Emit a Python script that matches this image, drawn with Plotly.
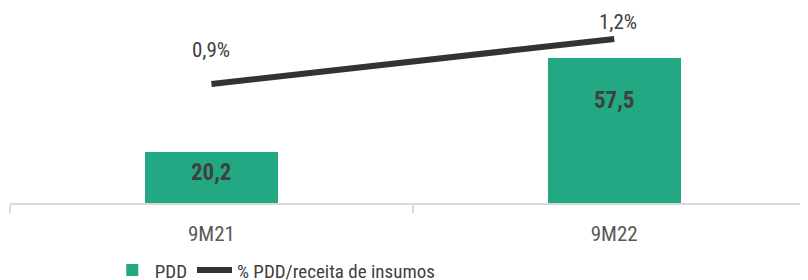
import plotly.graph_objects as go

categories = ["9M21", "9M22"]
pdd = [20.2, 57.5]
pdd_labels = ["20,2", "57,5"]
ratio = [0.9, 1.2]
ratio_labels = ["0,9%", "1,2%"]

GREEN = "#22A882"
DARK = "#333333"
TXT = "#404040"
FONT = "Roboto Condensed, Liberation Sans Narrow, Roboto, sans-serif"

fig = go.Figure()
fig.add_trace(go.Bar(
    x=categories, y=pdd, name="PDD", marker=dict(color=GREEN, line=dict(width=0)),
    width=0.33, yaxis="y",
))
fig.add_trace(go.Scatter(
    x=categories, y=ratio, name="% PDD/receita de insumos", mode="lines",
    line=dict(color=DARK, width=6), yaxis="y2",
))

bar_shift = [-20, -42]
for c, v, t, s in zip(categories, pdd, pdd_labels, bar_shift):
    fig.add_annotation(x=c, y=v, yref="y", text="<b>" + t + "</b>", showarrow=False,
                       yanchor="middle", yshift=s,
                       font=dict(size=23, color=TXT, family=FONT))
line_shift = [34, 17]
for c, v, t, s in zip(categories, ratio, ratio_labels, line_shift):
    fig.add_annotation(x=c, y=v, yref="y2", text=t, showarrow=False, yanchor="middle",
                       yshift=s, xshift=4 if s == 17 else 0,
                       font=dict(size=21, color=TXT, family=FONT))

fig.update_layout(
    width=808, height=280,
    margin=dict(l=2, r=8, t=2, b=85, autoexpand=False),
    plot_bgcolor="white", paper_bgcolor="white",
    font=dict(family=FONT, color=TXT, size=20),
    showlegend=True,
    legend=dict(orientation="h", x=0.125, xanchor="left", y=-0.25, yanchor="top",
                font=dict(size=19, color=TXT, family=FONT), itemwidth=35,
                bgcolor="rgba(0,0,0,0)"),
    xaxis=dict(range=[-0.5, 1.481], showgrid=False, showline=True, linecolor="#D9D9D9",
               linewidth=2, ticks="outside", tickson="boundaries", ticklen=8,
               tickcolor="#D9D9D9", tickwidth=2, ticklabelstandoff=11,
               tickfont=dict(size=21, color="#595959")),
    yaxis=dict(range=[0, 76.6], visible=False, showgrid=False),
    yaxis2=dict(range=[0.107, 1.393], overlaying="y", visible=False, showgrid=False),
    bargap=0,
)

fig.write_html("out.html")
